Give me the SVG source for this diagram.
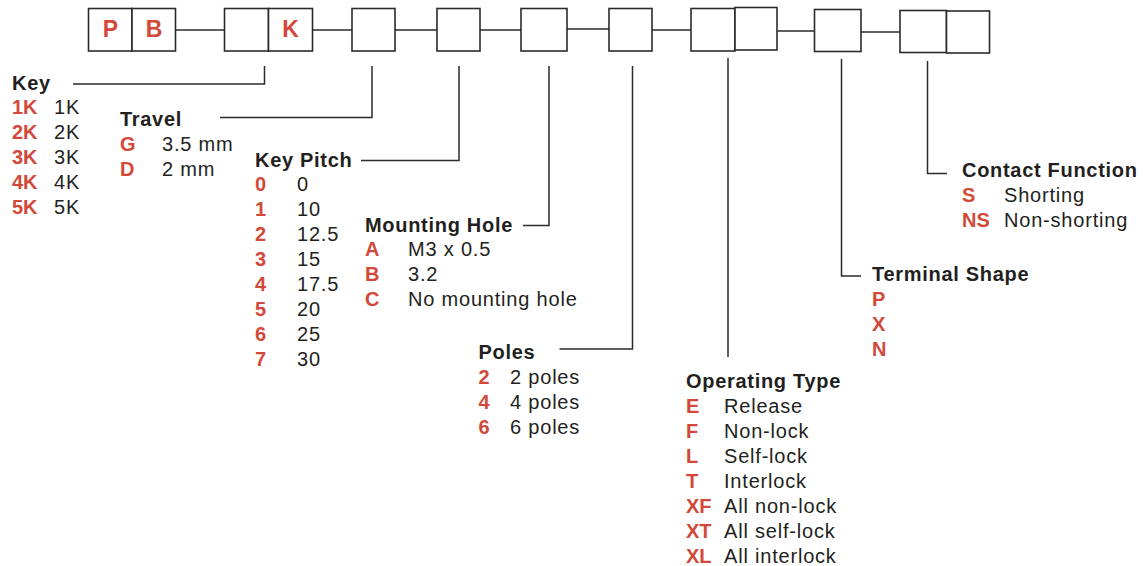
<svg xmlns="http://www.w3.org/2000/svg" width="1143" height="566" viewBox="0 0 1143 566">
<style>
.bx{fill:#fff;stroke:#2b2b2b;stroke-width:1.6}
.ln{fill:none;stroke:#2b2b2b;stroke-width:1.5}
text{font-family:"Liberation Sans",Arial,sans-serif}
.bl{font-size:23px;font-weight:bold;fill:#d2493a;text-anchor:middle}
.h{font-size:20px;font-weight:bold;fill:#231f20;letter-spacing:0.7px}
.c{font-size:20px;font-weight:bold;fill:#d2493a}
.v{font-size:20px;fill:#231f20;letter-spacing:0.8px}
</style>
<rect width="1143" height="566" fill="#fff"/>
<g id="connectors">
<path class="ln" d="M176 30H224.5M312.5 30H352M395 30H437M480 30H521M567 29H609M652 30H691M776 31H814.5M861 32H900"/>
<path class="ln" d="M264.5 66V84H73"/>
<path class="ln" d="M372 66V117.5H220"/>
<path class="ln" d="M459 66V160.5H361"/>
<path class="ln" d="M549 66V225.5H523"/>
<path class="ln" d="M632.5 66V349H559.5"/>
<path class="ln" d="M728 58V357"/>
<path class="ln" d="M841.5 59V276H861"/>
<path class="ln" d="M927.5 61V173.5H947"/>
</g>
<g id="code-boxes">
<rect class="bx" x="88.5" y="8.5" width="43.5" height="42.5"/>
<rect class="bx" x="132" y="8.5" width="43.5" height="42.5"/>
<text class="bl" x="110.5" y="37">P</text>
<text class="bl" x="154" y="37">B</text>
<rect class="bx" x="224.5" y="8.5" width="44" height="42.5"/>
<rect class="bx" x="268.5" y="8.5" width="44" height="42.5"/>
<text class="bl" x="290.5" y="37">K</text>
<rect class="bx" x="352" y="8.5" width="43" height="42.5"/>
<rect class="bx" x="437" y="8.5" width="43" height="42.5"/>
<rect class="bx" x="521" y="8.5" width="46" height="42.5"/>
<rect class="bx" x="609" y="8.5" width="43" height="42.5"/>
<rect class="bx" x="691" y="8.5" width="44" height="42.5"/>
<rect class="bx" x="735" y="7.5" width="42" height="42.5"/>
<rect class="bx" x="814.5" y="9.5" width="46.5" height="42"/>
<rect class="bx" x="900" y="10.5" width="46.5" height="42"/>
<rect class="bx" x="946.5" y="11" width="43" height="42"/>
</g>
<g id="key">
<text class="h" x="12" y="89.5">Key</text>
<text class="c" x="12" y="114">1K</text><text class="v" x="54" y="114">1K</text>
<text class="c" x="12" y="139">2K</text><text class="v" x="54" y="139">2K</text>
<text class="c" x="12" y="164">3K</text><text class="v" x="54" y="164">3K</text>
<text class="c" x="12" y="189">4K</text><text class="v" x="54" y="189">4K</text>
<text class="c" x="12" y="214">5K</text><text class="v" x="54" y="214">5K</text>
</g>
<g id="travel">
<text class="h" x="120" y="126">Travel</text>
<text class="c" x="120" y="151">G</text><text class="v" x="162" y="151">3.5 mm</text>
<text class="c" x="120" y="176">D</text><text class="v" x="162" y="176">2 mm</text>
</g>
<g id="key-pitch">
<text class="h" x="255" y="166.5">Key Pitch</text>
<text class="c" x="255" y="191">0</text><text class="v" x="297" y="191">0</text>
<text class="c" x="255" y="216">1</text><text class="v" x="297" y="216">10</text>
<text class="c" x="255" y="241">2</text><text class="v" x="297" y="241">12.5</text>
<text class="c" x="255" y="266">3</text><text class="v" x="297" y="266">15</text>
<text class="c" x="255" y="291">4</text><text class="v" x="297" y="291">17.5</text>
<text class="c" x="255" y="316">5</text><text class="v" x="297" y="316">20</text>
<text class="c" x="255" y="341">6</text><text class="v" x="297" y="341">25</text>
<text class="c" x="255" y="366">7</text><text class="v" x="297" y="366">30</text>
</g>
<g id="mounting-hole">
<text class="h" x="365" y="231.5">Mounting Hole</text>
<text class="c" x="365" y="256">A</text><text class="v" x="408" y="256">M3 x 0.5</text>
<text class="c" x="365" y="281">B</text><text class="v" x="408" y="281">3.2</text>
<text class="c" x="365" y="306">C</text><text class="v" x="408" y="306">No mounting hole</text>
</g>
<g id="poles">
<text class="h" x="478.5" y="359">Poles</text>
<text class="c" x="478.5" y="384">2</text><text class="v" x="510" y="384">2 poles</text>
<text class="c" x="478.5" y="409">4</text><text class="v" x="510" y="409">4 poles</text>
<text class="c" x="478.5" y="434">6</text><text class="v" x="510" y="434">6 poles</text>
</g>
<g id="operating-type">
<text class="h" x="686" y="388">Operating Type</text>
<text class="c" x="686" y="413">E</text><text class="v" x="724" y="413">Release</text>
<text class="c" x="686" y="438">F</text><text class="v" x="724" y="438">Non-lock</text>
<text class="c" x="686" y="463">L</text><text class="v" x="724" y="463">Self-lock</text>
<text class="c" x="686" y="488">T</text><text class="v" x="724" y="488">Interlock</text>
<text class="c" x="686" y="513">XF</text><text class="v" x="724" y="513">All non-lock</text>
<text class="c" x="686" y="538">XT</text><text class="v" x="724" y="538">All self-lock</text>
<text class="c" x="686" y="563">XL</text><text class="v" x="724" y="563">All interlock</text>
</g>
<g id="terminal-shape">
<text class="h" x="872" y="280.5">Terminal Shape</text>
<text class="c" x="872" y="306">P</text>
<text class="c" x="872" y="331">X</text>
<text class="c" x="872" y="356">N</text>
</g>
<g id="contact-function">
<text class="h" x="962" y="176.5">Contact Function</text>
<text class="c" x="962" y="202">S</text><text class="v" x="1004" y="202">Shorting</text>
<text class="c" x="962" y="227">NS</text><text class="v" x="1004" y="227">Non-shorting</text>
</g>
</svg>
